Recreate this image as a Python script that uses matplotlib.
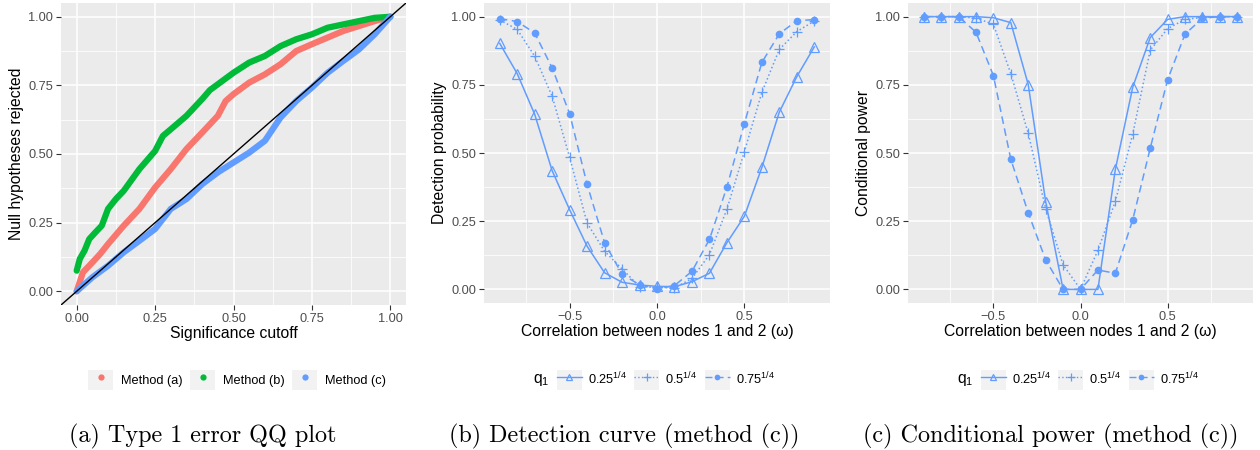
import numpy as np
import matplotlib
matplotlib.use("Agg")
import matplotlib.pyplot as plt
from matplotlib.lines import Line2D
from matplotlib.patches import Patch
from matplotlib.legend_handler import HandlerTuple
from matplotlib.ticker import MultipleLocator, FixedLocator

plt.rcParams['font.family'] = ['Liberation Sans', 'DejaVu Sans']
plt.rcParams['mathtext.fontset'] = 'custom'
plt.rcParams['mathtext.rm'] = 'Liberation Sans'
plt.rcParams['mathtext.it'] = 'Liberation Sans'

# ---------------- data: panel (a) ----------------
qq_a_x = [0.0, 0.02, 0.05, 0.075, 0.1, 0.15, 0.2, 0.25, 0.3, 0.35, 0.4, 0.45, 0.475, 0.5,
          0.55, 0.6, 0.65, 0.7, 0.75, 0.8, 0.85, 0.9, 0.95, 1.0]
qq_a_y = [0.0, 0.069, 0.105, 0.136, 0.172, 0.239, 0.30, 0.378, 0.445, 0.518, 0.578, 0.639, 0.693, 0.718,
          0.760, 0.79, 0.827, 0.875, 0.90, 0.924, 0.948, 0.966, 0.984, 1.0]
qq_b_x = [0.0, 0.01, 0.025, 0.04, 0.06, 0.08, 0.1, 0.125, 0.15, 0.2, 0.25, 0.275, 0.3, 0.35, 0.4,
          0.425, 0.45, 0.5, 0.55, 0.6, 0.65, 0.7, 0.75, 0.8, 0.85, 0.9, 0.95, 1.0]
qq_b_y = [0.075, 0.118, 0.148, 0.19, 0.215, 0.239, 0.30, 0.336, 0.366, 0.445, 0.511, 0.566, 0.590, 0.639, 0.70,
          0.733, 0.754, 0.796, 0.833, 0.857, 0.893, 0.918, 0.936, 0.96, 0.972, 0.984, 0.996, 1.0]
qq_c_x = [0.0, 0.05, 0.1, 0.15, 0.2, 0.25, 0.3, 0.35, 0.4, 0.45, 0.5, 0.55, 0.6, 0.65, 0.7,
          0.75, 0.8, 0.85, 0.9, 0.95, 1.0]
qq_c_y = [0.0, 0.051, 0.093, 0.142, 0.184, 0.227, 0.30, 0.336, 0.39, 0.433, 0.469, 0.505, 0.548, 0.633, 0.693,
          0.742, 0.796, 0.839, 0.881, 0.936, 1.0]
methods = ["Method (a)", "Method (b)", "Method (c)"]

# ---------------- data: panels (b), (c) ----------------
omega = [-0.9, -0.8, -0.7, -0.6, -0.5, -0.4, -0.3, -0.2, -0.1, 0.0,
         0.1, 0.2, 0.3, 0.4, 0.5, 0.6, 0.7, 0.8, 0.9]
q1_labels = ["0.25$^{1/4}$", "0.5$^{1/4}$", "0.75$^{1/4}$"]

detect_025 = [0.902, 0.791, 0.642, 0.435, 0.292, 0.158, 0.061, 0.026, 0.016, 0.011,
              0.010, 0.028, 0.059, 0.171, 0.268, 0.447, 0.650, 0.780, 0.889]
detect_05 = [0.988, 0.953, 0.855, 0.708, 0.484, 0.243, 0.140, 0.075, 0.010, 0.007,
             0.005, 0.040, 0.127, 0.294, 0.505, 0.722, 0.880, 0.945, 0.984]
detect_075 = [0.993, 0.982, 0.940, 0.812, 0.644, 0.385, 0.171, 0.055, 0.017, 0.002,
              0.014, 0.066, 0.183, 0.375, 0.608, 0.832, 0.937, 0.985, 0.989]

power_025 = [1.0, 1.0, 1.0, 1.0, 0.996, 0.978, 0.751, 0.322, 0.0, 0.0,
             0.0, 0.44, 0.742, 0.923, 0.99, 1.0, 1.0, 1.0, 1.0]
power_05 = [1.0, 1.0, 1.0, 0.995, 0.972, 0.791, 0.572, 0.296, 0.09, 0.0,
            0.143, 0.323, 0.570, 0.877, 0.956, 0.99, 0.997, 1.0, 1.0]
power_075 = [1.0, 1.0, 1.0, 0.943, 0.784, 0.477, 0.281, 0.108, 0.0, 0.0,
             0.071, 0.059, 0.256, 0.517, 0.769, 0.936, 0.994, 1.0, 1.0]

# ---------------- style ----------------
BG = '#EBEBEB'
TICKC = '#4D4D4D'
BLUE = '#619CFF'
cols_a = ['#F8766D', '#00BA38', '#619CFF']

fig = plt.figure(figsize=(12.6, 4.5), dpi=100)
W, H = 1260, 450

def add_axes(l, r, t, b):
    return fig.add_axes([l / W, 1 - b / H, (r - l) / W, (b - t) / H])

def gg_style(ax):
    ax.set_facecolor(BG)
    for s in ax.spines.values():
        s.set_visible(False)
    ax.grid(which='major', color='white', lw=1.1)
    ax.grid(which='minor', color='white', lw=0.55)
    ax.set_axisbelow(True)
    ax.tick_params(which='major', length=3.5, width=0.8, color='#333333',
                   labelcolor=TICKC, labelsize=9.2, pad=2)
    ax.tick_params(which='minor', length=0)

def yfmt(ax):
    ax.set_ylim(-0.05, 1.05)
    ax.yaxis.set_major_locator(FixedLocator([0, 0.25, 0.5, 0.75, 1.0]))
    ax.yaxis.set_minor_locator(FixedLocator([0.125, 0.375, 0.625, 0.875]))
    ax.set_yticklabels(['0.00', '0.25', '0.50', '0.75', '1.00'])

# ---------------- panel (a) ----------------
axa = add_axes(61, 406, 3, 305)
gg_style(axa)
yfmt(axa)
axa.set_xlim(-0.05, 1.05)
axa.xaxis.set_major_locator(FixedLocator([0, 0.25, 0.5, 0.75, 1.0]))
axa.xaxis.set_minor_locator(FixedLocator([0.125, 0.375, 0.625, 0.875]))
axa.set_xticklabels(['0.00', '0.25', '0.50', '0.75', '1.00'])
for xs, ys, c in [(qq_a_x, qq_a_y, cols_a[0]), (qq_b_x, qq_b_y, cols_a[1]), (qq_c_x, qq_c_y, cols_a[2])]:
    axa.plot(xs, ys, color=c, lw=4.5, solid_capstyle='round', solid_joinstyle='round')
axa.axline((0, 0), slope=1, color='black', lw=1.0)
axa.set_xlabel('Significance cutoff', fontsize=11.3, labelpad=1)
axa.set_ylabel('Null hypotheses rejected', fontsize=11.3, labelpad=3)

grey_patch = lambda: Patch(facecolor='#F2F2F2', edgecolor='none')
handles_a = [(grey_patch(), Line2D([], [], ls='none', marker='o', ms=4.5, color=c, mec='none'))
             for c in cols_a]
fig.legend(handles_a, methods, loc='center', bbox_to_anchor=(237 / W, 1 - 380 / H), ncol=3,
           frameon=False, fontsize=9.2, handlelength=1.95, handleheight=1.95,
           handletextpad=0.6, columnspacing=0.6, borderpad=0, borderaxespad=0,
           handler_map={tuple: HandlerTuple(ndivide=1)})

# ---------------- panels (b) and (c) ----------------
styles = [dict(ls='-', marker='^', mfc='none', ms=6.5, mew=0.9),
          dict(ls=':', marker='+', ms=7.5, mew=0.9),
          dict(ls=(0, (5, 3)), marker='o', ms=5.5, mew=0)]

def curve_panel(l, r, series, ylabel, leg_cx):
    ax = add_axes(l, r, 3, 303)
    gg_style(ax)
    yfmt(ax)
    ax.set_xlim(-0.99, 0.99)
    ax.xaxis.set_major_locator(FixedLocator([-0.5, 0.0, 0.5]))
    ax.xaxis.set_minor_locator(FixedLocator([-0.75, -0.25, 0.25, 0.75]))
    ax.set_xticklabels(['\u22120.5', '0.0', '0.5'])
    for ys, st in zip(series, styles):
        ax.plot(omega, ys, color=BLUE, lw=1.1, **st)
    ax.set_xlabel('Correlation between nodes 1 and 2 (\u03c9)', fontsize=11.3, labelpad=1)
    ax.set_ylabel(ylabel, fontsize=11.3, labelpad=3)
    hs = []
    for st in styles:
        hs.append((grey_patch(), Line2D([], [], color=BLUE, lw=1.0,
                                        **{k: (v * 0.75 if k == 'ms' else v) for k, v in st.items()})))
    fig.legend(hs, q1_labels, loc='center left', bbox_to_anchor=((leg_cx + 24) / W, 1 - 380 / H), ncol=3,
               frameon=False, fontsize=9.2, handlelength=1.95, handleheight=1.95,
               handletextpad=0.45, columnspacing=0.6, borderpad=0, borderaxespad=0,
               handler_map={tuple: HandlerTuple(ndivide=1)})
    fig.text((leg_cx) / W, 1 - 380 / H, 'q$_1$', fontsize=11.3, ha='left', va='center')
    return ax

curve_panel(484, 830, [detect_025, detect_05, detect_075], 'Detection probability', 533)
curve_panel(908, 1253, [power_025, power_05, power_075], 'Conditional power', 957)

# ---------------- captions ----------------
cap_kw = dict(fontsize=17.4, family='cmr10', ha='center', va='center')
fig.text(203 / W, 1 - 436 / H, '(a) Type 1 error QQ plot', **cap_kw)
fig.text(624 / W, 1 - 436 / H, '(b) Detection curve (method (c))', **cap_kw)
fig.text(1051 / W, 1 - 436 / H, '(c) Conditional power (method (c))', **cap_kw)

fig.savefig('out.png', dpi=100)
